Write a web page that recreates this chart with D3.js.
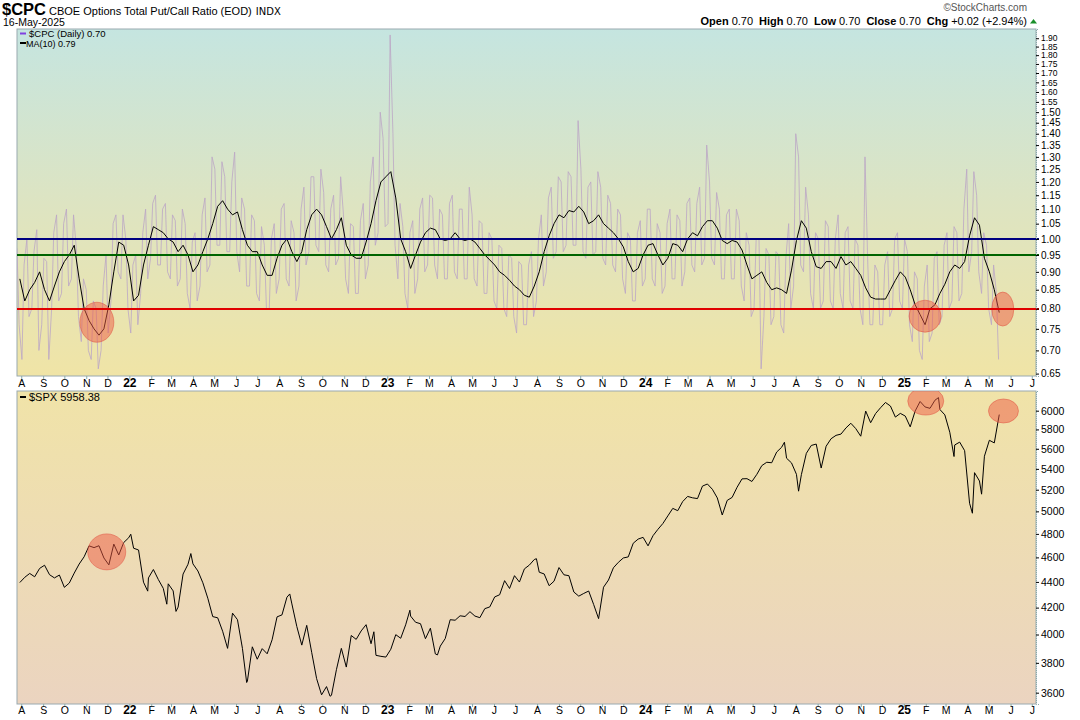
<!DOCTYPE html>
<html><head><meta charset="utf-8">
<script src="https://cdn.jsdelivr.net/npm/d3@7"></script>
<style>body{margin:0;background:#fff}svg{display:block}text{font-family:"Liberation Sans",Arial,sans-serif}</style>
</head><body><svg id="c" width="1080" height="720"></svg>
<script>
// ---------- DATA ----------
const firstWeek = "2021-07-30"; // weekly points (Fridays)
const cpcMA = [.88,.82,.85,.87,.90,.85,.82,.86,.90,.93,
.95,.98,.88,.80,.77,.75,.735,.75,.81,.90,
.99,.98,.92,.82,.835,.92,.98,1.04,1.03,1.02,
1.00,.99,.96,.98,.95,.90,.92,.96,1.00,1.05,
1.11,1.13,1.10,1.08,1.09,1.03,.98,.96,.96,.92,
.89,.89,.94,.98,1.00,.96,.93,.96,1.03,1.08,
1.10,1.08,1.04,1.00,1.03,1.07,.98,.95,.94,.94,
.99,1.05,1.13,1.20,1.22,1.24,1.14,1.00,.96,.91,
.95,.99,1.02,1.035,1.03,1.00,.995,1.00,1.02,1.00,
.995,1.00,.99,.97,.95,.935,.92,.90,.89,.876,
.86,.85,.835,.83,.86,.90,.96,1.01,1.05,1.08,
1.07,1.095,1.09,1.11,1.09,1.05,1.06,1.08,1.05,1.035,
1.02,1.00,.975,.93,.90,.91,.95,.98,.985,.95,
.92,.94,.985,.98,.96,1.00,1.02,1.01,1.04,1.06,
1.06,1.035,.995,.985,.995,.99,.965,.92,.88,.89,
.90,.87,.85,.855,.85,.84,.905,.995,1.06,1.035,
.96,.915,.91,.93,.93,.91,.945,.92,.93,.91,
.89,.855,.83,.825,.825,.825,.85,.876,.90,.885,
.85,.81,.785,.76,.80,.81,.84,.865,.90,.92,
.91,.93,1.01,1.07,1.045,.94,.90,.85,.79];
const cpcHigh = [.97,.92,1.00,.96,1.03,.94,.93,1.02,1.08,1.05,
1.10,1.08,.97,.88,.85,.82,.80,.86,.95,1.05,
1.08,1.08,1.00,.92,.95,1.02,1.10,1.12,1.15,1.10,
1.12,1.08,1.06,1.10,1.05,.99,1.02,1.08,1.14,1.30,
1.25,1.28,1.22,1.20,1.32,1.14,1.10,1.08,1.06,1.04,
.98,1.00,1.05,1.10,1.12,1.06,1.02,1.10,1.18,1.22,
1.22,1.25,1.16,1.10,1.15,1.22,1.08,1.05,1.04,1.06,
1.12,1.20,1.30,1.50,1.38,1.92,1.40,1.12,1.04,1.02,
1.06,1.10,1.14,1.15,1.14,1.10,1.08,1.12,1.15,1.10,
1.10,1.18,1.08,1.06,1.05,1.02,1.00,.98,.97,.95,
.94,.93,.92,.92,.96,1.00,1.08,1.14,1.18,1.22,
1.20,1.24,1.22,1.46,1.25,1.18,1.20,1.24,1.18,1.15,
1.12,1.10,1.08,1.02,1.00,1.02,1.06,1.10,1.10,1.05,
1.02,1.05,1.10,1.08,1.06,1.12,1.14,1.12,1.18,1.35,
1.20,1.16,1.10,1.08,1.10,1.10,1.06,1.02,.98,1.00,
1.00,.97,.95,.96,.95,.94,1.05,1.40,1.30,1.18,
1.08,1.02,1.00,1.06,1.04,1.00,1.08,1.02,1.04,1.00,
.98,1.30,.92,.92,.90,.92,.96,1.00,1.02,1.00,
.96,.90,.88,.86,.92,.94,.96,.98,1.02,1.04,
1.02,1.10,1.25,1.24,1.15,1.02,.98,.92,.84];
const cpcLow = [.76,.68,.78,.80,.70,.76,.68,.80,.82,.84,
.86,.88,.78,.72,.70,.68,.66,.70,.74,.82,
.90,.88,.80,.74,.76,.84,.88,.94,.92,.92,
.90,.88,.86,.88,.84,.80,.82,.86,.90,.92,
.98,.98,.96,.96,.96,.90,.86,.86,.84,.82,
.80,.80,.84,.88,.88,.86,.82,.86,.92,.96,
.98,.96,.92,.90,.92,.94,.88,.84,.84,.84,
.88,.92,.98,1.02,1.04,1.05,.98,.88,.84,.80,
.84,.88,.90,.92,.92,.88,.88,.88,.90,.88,
.88,.88,.88,.86,.84,.84,.82,.80,.80,.78,
.78,.74,.76,.76,.78,.82,.86,.90,.94,.96,
.96,.98,.98,.98,.96,.94,.95,.96,.94,.92,
.92,.90,.88,.84,.82,.82,.86,.88,.88,.86,
.84,.86,.88,.88,.86,.90,.92,.90,.92,.94,
.94,.92,.88,.88,.88,.88,.86,.82,.78,.80,
.66,.78,.76,.78,.76,.74,.80,.86,.92,.90,
.84,.80,.80,.82,.82,.80,.84,.80,.82,.80,
.80,.76,.76,.76,.76,.76,.78,.80,.82,.80,
.76,.72,.70,.68,.72,.74,.76,.78,.80,.82,
.82,.84,.90,.96,.90,.84,.80,.76,.68];
const spxWeekly = [4395,4437,4468,4441,4509,4535,4458,4432,4455,4357,
4391,4471,4545,4605,4697,4682,4698,4595,4538,4712,
4620,4725,4766,4677,4662,4398,4432,4500,4419,4349,
4385,4329,4204,4463,4543,4546,4488,4393,4272,4132,
4123,4024,3901,4158,4109,3901,3675,3912,3825,3899,
3863,3962,4130,4145,4280,4228,4058,3924,4067,3873,
3693,3586,3640,3583,3753,3901,3771,3993,3965,4026,
4072,3934,3852,3845,3840,3895,3999,3973,4071,4136,
4090,4079,3970,4046,3862,3917,3971,4109,4105,4138,
4133,4169,4136,4124,4192,4205,4282,4299,4410,4348,
4450,4399,4505,4536,4582,4478,4464,4370,4406,4516,
4457,4450,4320,4288,4309,4328,4224,4117,4358,4415,
4514,4559,4595,4604,4719,4755,4770,4697,4784,4840,
4891,4959,5027,5006,5089,5137,5124,5117,5234,5254,
5204,5123,4967,5100,5128,5223,5303,5305,5278,5347,
5432,5465,5460,5567,5615,5505,5459,5347,5344,5554,
5634,5648,5408,5626,5703,5738,5751,5815,5865,5808,
5729,5996,5871,5969,6032,6090,6051,5931,5971,5942,
5827,5997,6101,6041,6026,6115,6013,5955,5770,5639,
5668,5581,5074,5363,5283,5525,5687,5660,5958];
const spxExtraDates = ["2022-01-03","2022-01-27","2022-02-23","2022-03-08","2022-03-29","2022-06-16","2022-08-16","2022-10-12","2022-12-13","2023-02-02","2023-03-13","2023-07-31","2024-07-16","2024-08-05","2025-02-19","2025-03-13","2025-04-08","2025-04-21"];
const spxExtraValues = [4797,4327,4226,4171,4632,3667,4305,3577,4020,4180,3855,4589,5667,5186,6144,5522,4983,5158];
const cpcTicks = [0.65,0.70,0.75,0.80,0.85,0.90,0.95,1.00,1.05,1.10,1.15,1.20,1.25,1.30,1.35,1.40,1.45,1.50,1.55,1.60,1.65,1.70,1.75,1.80,1.85,1.90];
const spxTicks = [3600,3800,4000,4200,4400,4600,4800,5000,5200,5400,5600,5800,6000];
const refLevels = [1.00,0.95,0.80];
const refColors = ["#000080","#006400","#e00000"];
const monthLabels = ["A","S","O","N","D","22","F","M","A","M","J","J","A","S","O","N","D","23","F","M","A","M","J","J","A","S","O","N","D","24","F","M","A","M","J","J","A","S","O","N","D","25","F","M","A","M","J","J"];
const cpcCircles = [["2021-11-16",0.766,17,20],["2025-01-31",0.781,16,16],["2025-05-21",0.799,11,17]];
const spxCircles = [["2021-11-30",4646,19,18],["2025-02-01",6106,18,14],["2025-05-22",5997,15,12]];

// ---------- LAYOUT ----------
const svg = d3.select("#c");
const L = 17, R = 1036;
const top1 = 29, bot1 = 376, top2 = 391, bot2 = 704;
const parse = d3.timeParse("%Y-%m-%d");
const x = d3.scaleTime().domain([parse("2021-07-26"), parse("2025-07-07")]).range([L, R]);
const y1 = d3.scaleLog().domain([0.645, 1.957]).range([bot1, top1]);
const y2 = d3.scaleLog().domain([3527, 6218]).range([bot2, top2]);
const wk = i => d3.timeDay.offset(parse(firstWeek), 7 * i);

svg.append("rect").attr("width",1080).attr("height",720).attr("fill","#fff");
const defs = svg.append("defs");
const g1 = defs.append("linearGradient").attr("id","g1").attr("x1",0).attr("x2",0).attr("y1",0).attr("y2",1);
g1.append("stop").attr("offset","0%").attr("stop-color","#c5e5e0");
g1.append("stop").attr("offset","50%").attr("stop-color","#dde4c2");
g1.append("stop").attr("offset","100%").attr("stop-color","#f0e4a6");
const g2 = defs.append("linearGradient").attr("id","g2").attr("x1",0).attr("x2",0).attr("y1",0).attr("y2",1);
g2.append("stop").attr("offset","0%").attr("stop-color","#f0e3a8");
g2.append("stop").attr("offset","100%").attr("stop-color","#ebd4c0");
defs.append("clipPath").attr("id","cp1").append("rect").attr("x",L).attr("y",top1).attr("width",R-L).attr("height",bot1-top1);
defs.append("clipPath").attr("id","cp2").append("rect").attr("x",L).attr("y",top2).attr("width",R-L).attr("height",bot2-top2);

svg.append("rect").attr("x",L).attr("y",top1).attr("width",R-L).attr("height",bot1-top1).attr("fill","url(#g1)").attr("stroke","#9aaab0");
svg.append("rect").attr("x",L).attr("y",top2).attr("width",R-L).attr("height",bot2-top2).attr("fill","url(#g2)").attr("stroke","#9aaab0");

// header
const hd = svg.append("text").attr("x",2).attr("y",15);
hd.append("tspan").attr("font-weight","bold").attr("font-size",16.5).text("$CPC");
hd.append("tspan").attr("font-size",11).attr("dx",3).text("CBOE Options Total Put/Call Ratio (EOD)");
hd.append("tspan").attr("font-size",10).attr("dx",4).attr("font-family","DejaVu Sans").text("INDX");
svg.append("text").attr("x",3).attr("y",26).attr("font-size",10.5).text("16-May-2025");
svg.append("text").attr("x",1027).attr("y",11).attr("text-anchor","end").attr("font-size",10).attr("fill","#555").text("\u00A9StockCharts.com");
const oh = svg.append("text").attr("x",1027).attr("y",25).attr("text-anchor","end").attr("font-size",11);
[["Open","0.70"],["High","0.70"],["Low","0.70"],["Close","0.70"],["Chg","+0.02 (+2.94%)"]].forEach((p,i)=>{
  oh.append("tspan").attr("font-weight","bold").attr("dx", i? 6:0).text(p[0]);
  oh.append("tspan").attr("dx",3).text(p[1]);
});
svg.append("path").attr("d","M1030,23.5 l3.5,-4.5 l3.5,4.5 z").attr("fill","#1a8f2a");

// top panel
const p1 = svg.append("g").attr("clip-path","url(#cp1)");
const dailyPts = [];
cpcHigh.forEach((h,i)=>{
  const a = [d3.timeDay.offset(wk(i),-4), d3.timeDay.offset(wk(i),-1)];
  if (i % 2 === 0) { dailyPts.push([a[0], h]); dailyPts.push([a[1], cpcLow[i]]); }
  else { dailyPts.push([a[0], cpcLow[i]]); dailyPts.push([a[1], h]); }
});
p1.append("path").datum(dailyPts).attr("fill","none").attr("stroke","#bca6c6").attr("stroke-opacity",0.8).attr("stroke-width",1)
  .attr("d", d3.line().x(d=>x(d[0])).y(d=>y1(d[1])));
refLevels.forEach((v,i)=>{
  svg.append("line").attr("x1",L).attr("x2",R+3).attr("y1",Math.round(y1(v))).attr("y2",Math.round(y1(v))).attr("stroke",refColors[i]).attr("stroke-width",2);
});
p1.append("path").datum(cpcMA).attr("fill","none").attr("stroke","#000").attr("stroke-width",1)
  .attr("d", d3.line().x((d,i)=>x(wk(i))).y(d=>y1(d)));
cpcCircles.forEach(c=>{
  p1.append("ellipse").attr("cx",x(parse(c[0]))).attr("cy",y1(c[1])).attr("rx",c[2]).attr("ry",c[3])
    .attr("fill","#ee5a44").attr("fill-opacity",0.5).attr("stroke","#e05040").attr("stroke-opacity",0.5);
});
// legends
svg.append("line").attr("x1",20).attr("x2",26).attr("y1",33.5).attr("y2",33.5).attr("stroke","#8040e0").attr("stroke-width",2);
svg.append("text").attr("x",29).attr("y",37).attr("font-size",9.5).attr("font-family","DejaVu Sans Mono").text("$CPC (Daily) 0.70");
svg.append("line").attr("x1",20).attr("x2",26).attr("y1",43).attr("y2",43).attr("stroke","#000").attr("stroke-width",2);
svg.append("text").attr("x",26).attr("y",47).attr("font-size",9).text("MA(10) 0.79");

// right axis top
const ax1 = d3.axisRight(y1).tickValues(cpcTicks).tickFormat(d3.format(".2f")).tickSize(3);
svg.append("g").attr("transform",`translate(${R},0)`).call(ax1).call(g=>{
  g.select(".domain").attr("stroke","#8aa").attr("stroke-dasharray","1,1");
  g.selectAll("text").attr("font-size",(d)=>d>1.5?8.5:10).attr("font-family","Liberation Sans").attr("dx",-1);
});

// bottom panel
const p2 = svg.append("g").attr("clip-path","url(#cp2)");
const spxPts = spxWeekly.map((v,i)=>[wk(i),v]).concat(spxExtraDates.map((d,i)=>[parse(d),spxExtraValues[i]])).sort((a,b)=>a[0]-b[0]);
p2.append("path").datum(spxPts).attr("fill","none").attr("stroke","#000").attr("stroke-width",1)
  .attr("d", d3.line().x(d=>x(d[0])).y(d=>y2(d[1])));
spxCircles.forEach(c=>{
  p2.append("ellipse").attr("cx",x(parse(c[0]))).attr("cy",y2(c[1])).attr("rx",c[2]).attr("ry",c[3])
    .attr("fill","#ee5a44").attr("fill-opacity",0.5).attr("stroke","#e05040").attr("stroke-opacity",0.5);
});
svg.append("line").attr("x1",20).attr("x2",26).attr("y1",397).attr("y2",397).attr("stroke","#000").attr("stroke-width",2);
svg.append("text").attr("x",29).attr("y",401).attr("font-size",11).attr("font-family","DejaVu Sans Mono").text("$SPX 5958.38");
const ax2 = d3.axisRight(y2).tickValues(spxTicks).tickFormat(d3.format("d")).tickSize(3);
svg.append("g").attr("transform",`translate(${R},0)`).call(ax2).call(g=>{
  g.select(".domain").attr("stroke","#8aa").attr("stroke-dasharray","1,1");
  g.selectAll("text").attr("font-size",10.5).attr("font-family","Liberation Sans").attr("dx",-1);
});

// month axes
const months = d3.timeMonth.range(parse("2021-08-01"), parse("2025-08-01"));
[[bot1, 386.5],[bot2, 714]].forEach(([yb, yt])=>{
  const ax = d3.axisBottom(x).tickValues(months).tickSize(3).tickFormat((d,i)=>monthLabels[i]);
  svg.append("g").attr("transform",`translate(0,${yb})`).call(ax).call(g=>{
    g.select(".domain").remove();
    g.selectAll(".tick line").attr("stroke","#8aa");
    g.selectAll("text").attr("y", yt - yb).attr("dy",0).attr("font-family","Liberation Sans")
      .attr("font-weight",(d,i)=>/\d/.test(monthLabels[i])?"bold":"normal")
      .attr("font-size",(d,i)=>/\d/.test(monthLabels[i])?12:10.5);
  });
});
</script></body></html>
